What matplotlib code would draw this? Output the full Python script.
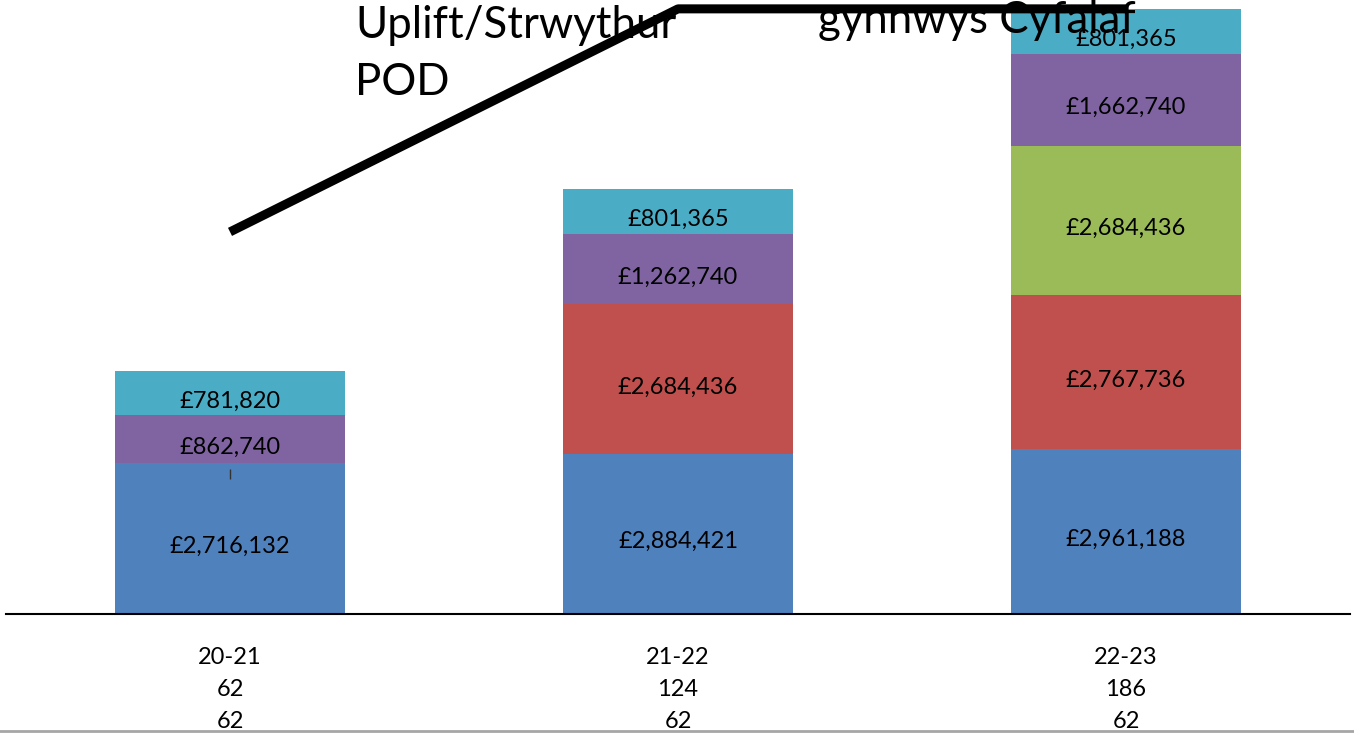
import matplotlib.pyplot as plt
from matplotlib.transforms import blended_transform_factory

# Data
years = ["20-21", "21-22", "22-23"]
row2 = ["62", "124", "186"]
row3 = ["62", "62", "62"]

base = [2716132, 2884421, 2961188]
red_part = [0, 2684436, 2767736]
green_part = [0, 0, 2684436]
purple_part = [862740, 1262740, 1662740]
teal_part = [781820, 801365, 801365]

# black line series (read in £ on the bar scale)
line_vals = [6870000, 10880000, 10880000]

series = [base, red_part, green_part, purple_part, teal_part]
colors = ["#4F81BD", "#C0504D", "#9BBB59", "#8064A2", "#4BACC6"]

W, H = 1354, 733
fig = plt.figure(figsize=(W / 100, H / 100), dpi=100)
plt.rcParams["font.family"] = ["Lato", "DejaVu Sans"]

base_px = 614
px_per_unit = 605 / 10877465
ax = fig.add_axes([6 / W, (H - base_px) / H, 1344 / W, base_px / H])
ax.set_xlim(-0.5, 2.5)
ax.set_ylim(0, base_px / px_per_unit)
ax.axis("off")

# labels sit a little below the segment middle, like Excel
lab_shift = 8 / px_per_unit

x = list(range(len(years)))
bottom = [0, 0, 0]
for vals, col in zip(series, colors):
    ax.bar(x, vals, width=0.513, bottom=bottom, color=col, zorder=2)
    for i, v in enumerate(vals):
        if v > 0:
            ax.text(i, bottom[i] + v / 2 - lab_shift, f"£{v:,}", ha="center",
                    va="center", fontsize=17, color="black", zorder=3)
    bottom = [b + v for b, v in zip(bottom, vals)]

# horizontal axis line
ax.plot([0, 1], [0, 0], transform=ax.transAxes, color="black", lw=1.5,
        clip_on=False, zorder=4)

# black line series on top
ax.plot(x, line_vals, color="black", lw=6.5, solid_capstyle="butt",
        clip_on=False, zorder=6)
# small tick mark in first bar
ax.plot([0], [2520000], marker="|", color="#333333", markersize=7, mew=1, zorder=5)

# line labels (cut off at top in the original)
ax.text(355, H - 38, "Uplift/Strwythur", transform=None, fontsize=31.5,
        ha="left", va="baseline", zorder=5)
ax.text(355, H - 95, "POD", transform=None, fontsize=31.5,
        ha="left", va="baseline", zorder=5)
ax.text(818, H - 33, "gynnwys Cyfalaf", transform=None, fontsize=31.5,
        ha="left", va="baseline", zorder=5)

# multi-row category labels
tr = blended_transform_factory(ax.transData, fig.transFigure)
for i in x:
    for lab, yy in zip([years[i], row2[i], row3[i]], [658, 690, 722]):
        ax.text(i, 1 - yy / H, lab, transform=tr, ha="center", va="center",
                fontsize=17, clip_on=False)

# gray line at the bottom edge
fig.add_artist(plt.Line2D([0, 1], [1 - 731 / H, 1 - 731 / H], color="#a6a6a6", lw=2))

fig.savefig("out.png", dpi=100)
